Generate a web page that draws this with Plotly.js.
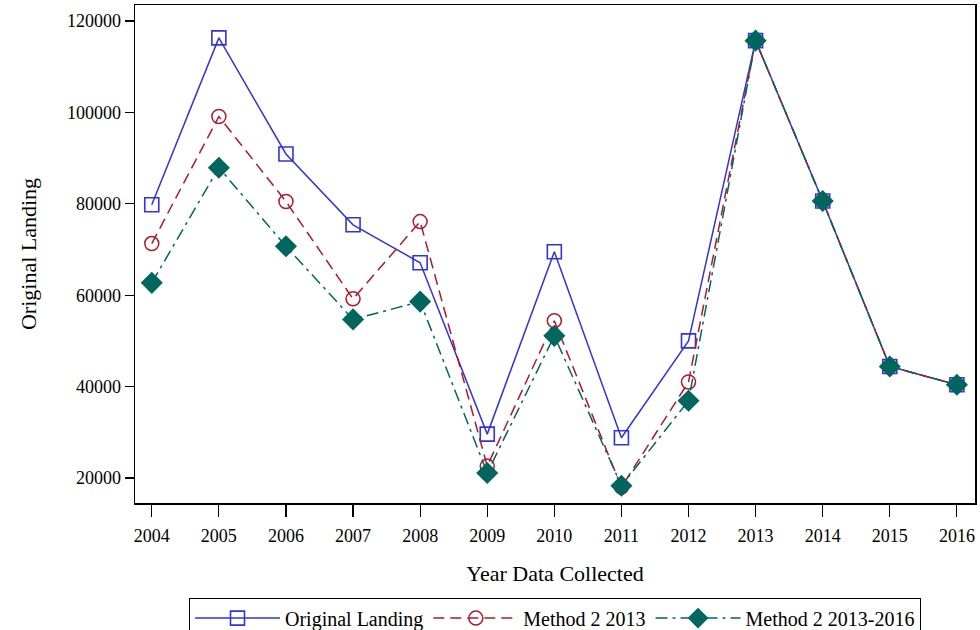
<!DOCTYPE html>
<html>
<head>
<meta charset="utf-8">
<script src="https://cdn.plot.ly/plotly-3.0.1.min.js"></script>
<style>
html,body{margin:0;padding:0;background:#fff;}
#chart{width:980px;height:630px;}
</style>
</head>
<body>
<div id="chart"></div>
<script>
var years = [2004, 2005, 2006, 2007, 2008, 2009, 2010, 2011, 2012, 2013, 2014, 2015, 2016];
var originalLanding = [79800, 116300, 90900, 75400, 67100, 29600, 69500, 28800, 50000, 115700, 80600, 44400, 40400];
var method2_2013 = [71300, 99100, 80500, 59200, 76100, 22600, 54400, 18000, 41000, 115700, 80600, 44400, 40400];
var method2_2013_2016 = [62700, 87900, 70700, 54700, 58600, 21100, 51100, 18300, 36900, 115700, 80600, 44400, 40400];
var seriesNames = ["Original Landing", "Method 2 2013", "Method 2 2013-2016"];
var yTicks = [20000, 40000, 60000, 80000, 100000, 120000];

var serif = "Liberation Serif, Times New Roman, serif";

var traces = [
  {
    x: years, y: originalLanding, name: seriesNames[0], type: "scatter", mode: "lines+markers",
    line: {color: "#3333DD", width: 1.5, dash: "solid"},
    marker: {symbol: "square-open", size: 14, color: "#3333DD", line: {width: 1.6, color: "#3333DD"}}
  },
  {
    x: years, y: method2_2013, name: seriesNames[1], type: "scatter", mode: "lines+markers",
    line: {color: "#B2182B", width: 1.5, dash: "11px,6px"},
    marker: {symbol: "circle-open", size: 14, color: "#B2182B", line: {width: 1.5, color: "#B2182B"}}
  },
  {
    x: years, y: method2_2013_2016, name: seriesNames[2], type: "scatter", mode: "lines+markers",
    line: {color: "#01665E", width: 1.5, dash: "12px,5px,3px,5px"},
    marker: {symbol: "diamond", size: 17, color: "#01665E", line: {width: 0}}
  }
];

var layout = {
  width: 980, height: 630,
  margin: {l: 135, r: 5, t: 5, b: 127, autoexpand: false},
  paper_bgcolor: "#fff", plot_bgcolor: "#fff",
  font: {family: serif, size: 18, color: "#000"},
  showlegend: true,
  legend: {
    orientation: "h", x: 0.5, xanchor: "center", y: -0.19, yanchor: "top",
    bordercolor: "#000", borderwidth: 1, font: {family: serif, size: 20, color: "#000"},
    itemwidth: 85, tracegroupgap: 0
  },
  xaxis: {
    range: [2003.75, 2016.27],
    tickmode: "array", tickvals: years, ticktext: years.map(String),
    ticks: "outside", ticklen: 12, tickwidth: 1.2, tickcolor: "#000",
    ticklabelstandoff: 4,
    showline: true, linecolor: "#000", linewidth: 1.5, mirror: true,
    showgrid: false, zeroline: false, automargin: false,
    tickfont: {family: serif, size: 18, color: "#000"},
    title: {text: "Year Data Collected", font: {family: serif, size: 22, color: "#000"}, standoff: 20}
  },
  yaxis: {
    range: [14530, 123500],
    tickmode: "array", tickvals: yTicks, ticktext: yTicks.map(String),
    ticks: "outside", ticklen: 9, tickwidth: 1.2, tickcolor: "#000",
    showline: true, linecolor: "#000", linewidth: 1.5, mirror: true,
    showgrid: false, zeroline: false, automargin: false,
    tickfont: {family: serif, size: 18, color: "#000"},
    title: {text: "Original Landing", font: {family: serif, size: 22, color: "#000"}, standoff: 24}
  }
};

Plotly.newPlot("chart", traces, layout, {displayModeBar: false, staticPlot: true});
</script>
</body>
</html>
